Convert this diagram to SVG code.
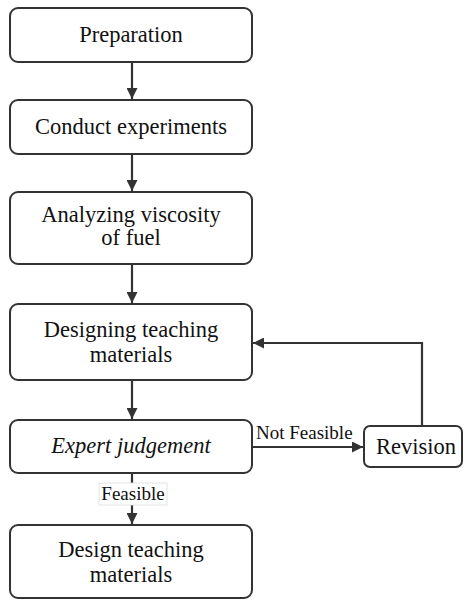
<svg xmlns="http://www.w3.org/2000/svg" width="464" height="601" viewBox="0 0 464 601">
<style>
.box{fill:#fff;stroke:#333;stroke-width:2}
.t{font-family:'Liberation Serif','Times New Roman',serif;font-size:22.5px;fill:#111;text-anchor:middle}
.s{font-family:'Liberation Serif','Times New Roman',serif;font-size:19px;fill:#111}
.c{fill:none;stroke:#333;stroke-width:2.2}
</style>
<defs>
<marker id="ah" viewBox="0 0 10 10" refX="10" refY="5" markerWidth="5" markerHeight="5" orient="auto" markerUnits="strokeWidth">
<path d="M0,0 L10,5 L0,10 z" fill="#333"/>
</marker>
</defs>
<rect width="464" height="601" fill="#fff"/>
<g id="connectors">
<line class="c" x1="132" y1="62" x2="132" y2="99" marker-end="url(#ah)"/>
<line class="c" x1="132" y1="154" x2="132" y2="191" marker-end="url(#ah)"/>
<line class="c" x1="132" y1="264" x2="132" y2="303" marker-end="url(#ah)"/>
<line class="c" x1="132" y1="380" x2="132" y2="419" marker-end="url(#ah)"/>
<line class="c" x1="132" y1="473" x2="132" y2="524" marker-end="url(#ah)"/>
<line class="c" x1="252" y1="447" x2="363" y2="447" marker-end="url(#ah)"/>
<polyline class="c" points="422,426 422,343 253,343" marker-end="url(#ah)"/>
<rect x="99" y="483" width="68" height="22" fill="#fff" stroke="#ddd" stroke-width="0.8"/>
<text class="s" x="133" y="500" text-anchor="middle">Feasible</text>
<text class="s" x="256" y="439">Not Feasible</text>
</g>
<g id="n1"><rect class="box" x="10" y="8" width="242" height="54" rx="8"/><text class="t" x="131" y="42">Preparation</text></g>
<g id="n2"><rect class="box" x="10" y="100" width="242" height="54" rx="8"/><text class="t" x="131" y="134">Conduct experiments</text></g>
<g id="n3"><rect class="box" x="10" y="192" width="242" height="72" rx="8"/><text class="t" x="131" y="222">Analyzing viscosity</text><text class="t" x="131" y="245">of fuel</text></g>
<g id="n4"><rect class="box" x="10" y="304" width="242" height="76" rx="8"/><text class="t" x="131" y="337">Designing teaching</text><text class="t" x="131" y="362">materials</text></g>
<g id="n5"><rect class="box" x="10" y="420" width="242" height="53" rx="8"/><text class="t" x="131" y="453" font-style="italic">Expert judgement</text></g>
<g id="n6"><rect class="box" x="10" y="525" width="242" height="73" rx="8"/><text class="t" x="131" y="557">Design teaching</text><text class="t" x="131" y="582">materials</text></g>
<g id="n7"><rect class="box" x="364" y="426" width="98" height="41" rx="6"/><text class="t" x="416" y="454">Revision</text></g>
</svg>
